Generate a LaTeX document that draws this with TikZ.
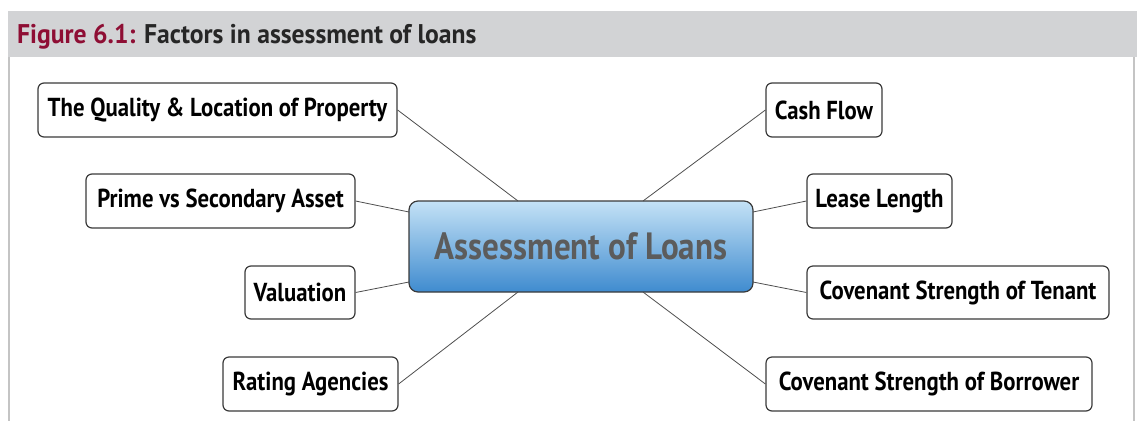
\documentclass[tikz,border=0pt]{standalone}
\usepackage{fontspec}
\setmainfont{PT Sans}
\newfontfamily\nodefont[FakeStretch=0.875]{PT Sans}
\newfontfamily\hubfont[FakeStretch=0.87]{PT Sans}
\newfontfamily\headfont[FakeStretch=0.95]{PT Sans}
\definecolor{hdrgray}{HTML}{D2D3D5}
\definecolor{framegray}{HTML}{C4C4C4}
\definecolor{figred}{HTML}{8E0E34}
\definecolor{boxline}{HTML}{3A3A3A}
\definecolor{blueTop}{HTML}{C4E2F6}
\definecolor{blueBot}{HTML}{3F8BCF}
\definecolor{centertext}{HTML}{5C5C5C}
\tikzset{
  factor/.style={draw=boxline, line width=1.2pt, rounded corners=6pt, fill=white,
    inner sep=0pt, font=\nodefont\bfseries\fontsize{26}{30}\selectfont, text=black},
  hub/.style={draw=boxline, line width=1.2pt, rounded corners=9pt,
    top color=blueTop, bottom color=blueBot, inner sep=0pt,
    font=\hubfont\bfseries\fontsize{38}{44}\selectfont, text=centertext},
  link/.style={draw=boxline!90, line width=0.8pt}
}
\begin{document}
\begin{tikzpicture}[x=1pt,y=-1pt]
\useasboundingbox (0,0) rectangle (1137,421);
% header band
\fill[hdrgray] (8,11) rectangle (1137,57);
\node[anchor=base west, inner sep=0pt, font=\headfont\bfseries\fontsize{27}{31}\selectfont] (title) at (17,43)
  {\textcolor{figred}{Figure 6.1:} \textcolor{black!85}{Factors in assessment of loans}};
% frame lines
\draw[framegray, line width=2pt] (9,57) -- (9,421);
\draw[framegray, line width=2pt] (1134,57) -- (1134,421);
% center
\node[hub, minimum width=344, minimum height=91] (hub) at (581,246.5) {Assessment of Loans};
% left factors
\node[factor, minimum width=359, minimum height=54] (qual) at (217.5,110) {The Quality \& Location of Property};
\node[factor, minimum width=269, minimum height=54] (prime) at (220.5,201) {Prime vs Secondary Asset};
\node[factor, minimum width=110, minimum height=53] (val) at (300,292.5) {Valuation};
\node[factor, minimum width=175, minimum height=54] (rate) at (310.5,384) {Rating Agencies};
% right factors
\node[factor, minimum width=116, minimum height=54] (cash) at (824,110) {Cash Flow};
\node[factor, minimum width=145, minimum height=54] (lease) at (879.5,201) {Lease Length};
\node[factor, minimum width=302, minimum height=53] (tenant) at (958,292.5) {Covenant Strength of Tenant};
\node[factor, minimum width=326, minimum height=54] (borr) at (929,384) {Covenant Strength of Borrower};
% connector anchors on hub
\coordinate (hubTL) at (518,201);
\coordinate (hubTR) at (643,201);
\coordinate (hubL1) at (409,212);
\coordinate (hubR1) at (753,212);
\coordinate (hubL2) at (409,282);
\coordinate (hubR2) at (753,282);
\coordinate (hubBL) at (518,292);
\coordinate (hubBR) at (643,292);
\draw[link] (qual.east) -- (hubTL);
\draw[link] (cash.west) -- (hubTR);
\draw[link] (prime.east) -- (hubL1);
\draw[link] (lease.west) -- (hubR1);
\draw[link] (val.east) -- (hubL2);
\draw[link] (tenant.west) -- (hubR2);
\draw[link] (rate.east) -- (hubBL);
\draw[link] (borr.west) -- (hubBR);
\end{tikzpicture}
\end{document}
